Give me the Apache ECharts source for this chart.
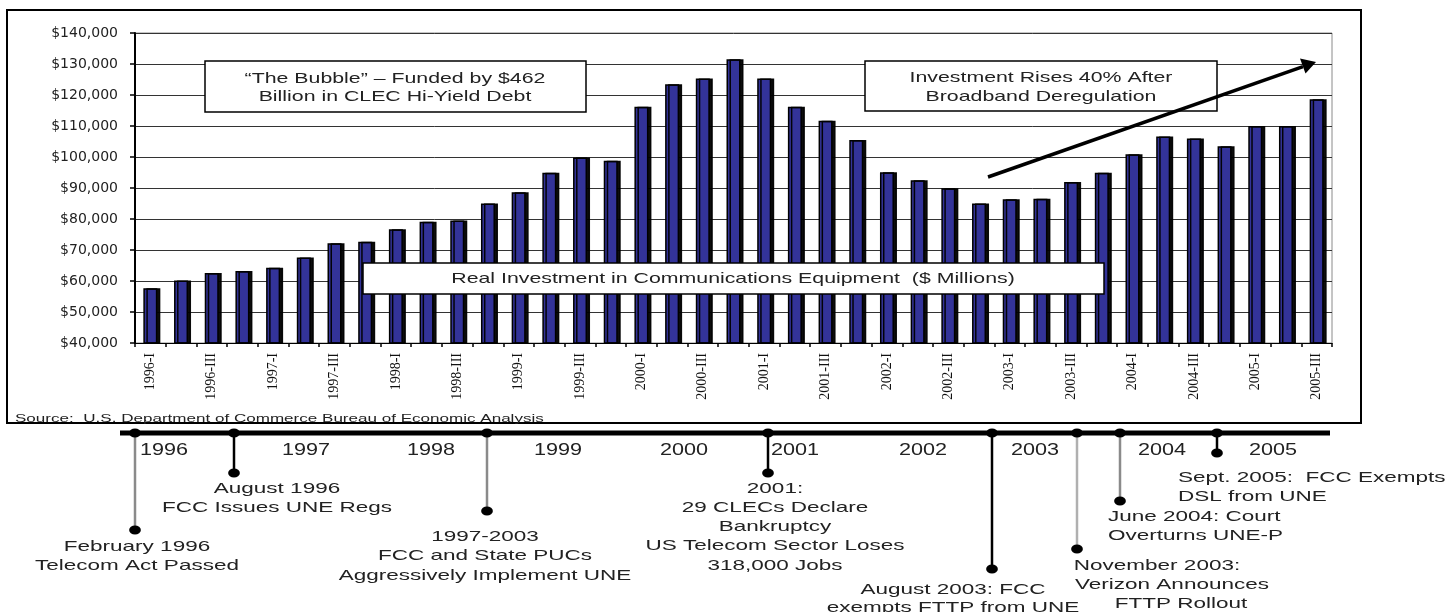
<!DOCTYPE html>
<html>
<head>
<meta charset="utf-8">
<script src="https://cdn.jsdelivr.net/npm/echarts@6/dist/echarts.min.js"></script>
<style>html,body{margin:0;padding:0;background:#fff}#c{width:1455px;height:612px}</style>
</head>
<body>
<div id="c"></div>
<script>
// ---- data ----
const categories = ['1996-I','1996-II','1996-III','1996-IV','1997-I','1997-II','1997-III','1997-IV',
  '1998-I','1998-II','1998-III','1998-IV','1999-I','1999-II','1999-III','1999-IV',
  '2000-I','2000-II','2000-III','2000-IV','2001-I','2001-II','2001-III','2001-IV',
  '2002-I','2002-II','2002-III','2002-IV','2003-I','2003-II','2003-III','2003-IV',
  '2004-I','2004-II','2004-III','2004-IV','2005-I','2005-II','2005-III'];
const investment = [57700, 60200, 62600, 63200, 64300, 67600, 72200, 72700,
  76700, 79100, 79500, 85000, 88600, 94900, 99800, 98800,
  116200, 123500, 125300, 131500, 125300, 116200, 111700, 105500,
  95100, 92500, 89900, 85000, 86400, 86500, 91900, 94900,
  100900, 106600, 106000, 103500, 110000, 110000, 118600];
const yMin = 40000, yMax = 140000, yStep = 10000;
const timelineYears = ['1996','1997','1998','1999','2000','2001','2002','2003','2004','2005'];
const annotationBubble = ['\u201cThe Bubble\u201d \u2013 Funded by $462', 'Billion in CLEC Hi-Yield Debt'];
const annotationRise = ['Investment Rises 40% After', 'Broadband Deregulation'];
const seriesTitle = 'Real Investment in Communications Equipment  ($ Millions)';
const sourceNote = 'Source:  U.S. Department of Commerce Bureau of Economic Analysis';
const eventLabels = [
  ['February 1996', 'Telecom Act Passed'],
  ['August 1996', 'FCC Issues UNE Regs'],
  ['1997-2003', 'FCC and State PUCs', 'Aggressively Implement UNE'],
  ['2001:', '29 CLECs Declare', 'Bankruptcy', 'US Telecom Sector Loses', '318,000 Jobs'],
  ['August 2003: FCC', 'exempts FTTP from UNE'],
  ['November 2003:', 'Verizon Announces', 'FTTP Rollout'],
  ['June 2004: Court', 'Overturns UNE-P'],
  ['Sept. 2005:  FCC Exempts', 'DSL from UNE']
];

// ---- layout (pixels) ----
const yearX = [164, 306, 431, 558, 684, 795, 923, 1035, 1162, 1273];
const eventLayout = [
  {x:135, end:530, color:'#8a8a8a', tx:137, ty:[547,566], align:'center'},
  {x:234, end:473, color:'#000', tx:277, ty:[489,508], align:'center'},
  {x:487, end:511, color:'#8a8a8a', tx:485, ty:[537,556,576], align:'center'},
  {x:768, end:473, color:'#000', tx:775, ty:[489,508,527,546,566], align:'center'},
  {x:992, end:569, color:'#000', tx:953, ty:[590,608], align:'center'},
  {x:1077, end:549, color:'#b0b0b0', tx:[1157,1172,1181], ty:[566,585,604], align:'center'},
  {x:1120, end:501, color:'#8a8a8a', tx:1108, ty:[517,536], align:'left'},
  {x:1217, end:453, color:'#000', tx:1178, ty:[478,497], align:'left'}
];
const TL_Y = 433;

function txt(x, y, s, size, sx, align, fill) {
  return {type:'text', x:x, y:y, scaleX:sx, scaleY:1, z:120,
    style:{text:s, x:0, y:0, fontSize:size, fontFamily:'"Liberation Sans", Arial, sans-serif',
      fill:fill || '#222', align:align || 'center', verticalAlign:'middle'}};
}

const g = [];
// outer frame
g.push({type:'rect', z:90, shape:{x:7, y:10, width:1354, height:413}, style:{fill:null, stroke:'#000', lineWidth:2}});
// annotation boxes
g.push({type:'rect', z:110, shape:{x:205, y:61, width:381, height:51}, style:{fill:'#fff', stroke:'#000', lineWidth:1.5}});
g.push(txt(395, 79, annotationBubble[0], 15, 1.42));
g.push(txt(395, 97, annotationBubble[1], 15, 1.42));
g.push({type:'rect', z:110, shape:{x:865, y:61, width:352, height:50}, style:{fill:'#fff', stroke:'#000', lineWidth:1.5}});
g.push(txt(1041, 78, annotationRise[0], 15, 1.42));
g.push(txt(1041, 97, annotationRise[1], 15, 1.42));
g.push({type:'rect', z:110, shape:{x:363, y:263, width:741, height:31}, style:{fill:'#fff', stroke:'#000', lineWidth:1.5}});
g.push(txt(733, 279, seriesTitle, 15, 1.42));
// arrow
g.push({type:'line', z:115, shape:{x1:988, y1:177, x2:1303, y2:66.6}, style:{stroke:'#000', lineWidth:3.5}});
g.push({type:'polygon', z:115, shape:{points:[[1316,62],[1305.5,73.5],[1300,58.5]]}, style:{fill:'#000'}});
// source
g.push(txt(15, 419, sourceNote, 11, 1.55, 'left', '#222'));
// timeline
g.push({type:'line', z:100, shape:{x1:120, y1:TL_Y, x2:1330, y2:TL_Y}, style:{stroke:'#000', lineWidth:5}});
timelineYears.forEach((yr, i) => g.push(txt(yearX[i], 451, yr, 16, 1.35)));
eventLayout.forEach((ev, i) => {
  g.push({type:'line', z:101, shape:{x1:ev.x, y1:TL_Y, x2:ev.x, y2:ev.end}, style:{stroke:ev.color, lineWidth:2.5}});
  g.push({type:'circle', z:102, x:ev.x, y:TL_Y, scaleX:1.3, shape:{cx:0, cy:0, r:4.5}, style:{fill:'#000'}});
  g.push({type:'circle', z:102, x:ev.x, y:ev.end, scaleX:1.3, shape:{cx:0, cy:0, r:4.5}, style:{fill:'#000'}});
  eventLabels[i].forEach((line, j) => {
    const tx = Array.isArray(ev.tx) ? ev.tx[j] : ev.tx;
    g.push(txt(tx, ev.ty[j], line, 15, 1.5, ev.align));
  });
});

const chart = echarts.init(document.getElementById('c'));
chart.setOption({
  animation: false,
  backgroundColor: '#fff',
  grid: {left:135, right:123, top:33, bottom:269, show:true, borderColor:'#8a8a8a', borderWidth:1},
  xAxis: {
    type:'category', data:categories, boundaryGap:true,
    axisLine:{lineStyle:{color:'#000', width:1}},
    axisTick:{show:true, interval:0, length:4, lineStyle:{color:'#000', width:1.5}},
    axisLabel:{interval:1, rotate:90, margin:10, fontFamily:'"Liberation Serif", serif', fontSize:14, color:'#111'}
  },
  yAxis: {
    type:'value', min:yMin, max:yMax, interval:yStep,
    axisLine:{show:true, lineStyle:{color:'#000', width:2}},
    axisTick:{show:true, length:5, lineStyle:{color:'#000', width:1.5}},
    splitLine:{lineStyle:{color:'#333', width:1}},
    axisLabel:{margin:17, fontFamily:'"DejaVu Sans", sans-serif', fontSize:14, color:'#222',
      formatter: v => '$' + v.toLocaleString('en-US')}
  },
  series: [{
    type:'bar', data:investment, barWidth:14, z:5,
    itemStyle:{color:'#333399', borderColor:'#000', borderWidth:1.5,
      shadowColor:'rgba(0,0,0,0.95)', shadowOffsetX:3, shadowOffsetY:0, shadowBlur:0}
  }],
  graphic: g
});
</script>
</body>
</html>
